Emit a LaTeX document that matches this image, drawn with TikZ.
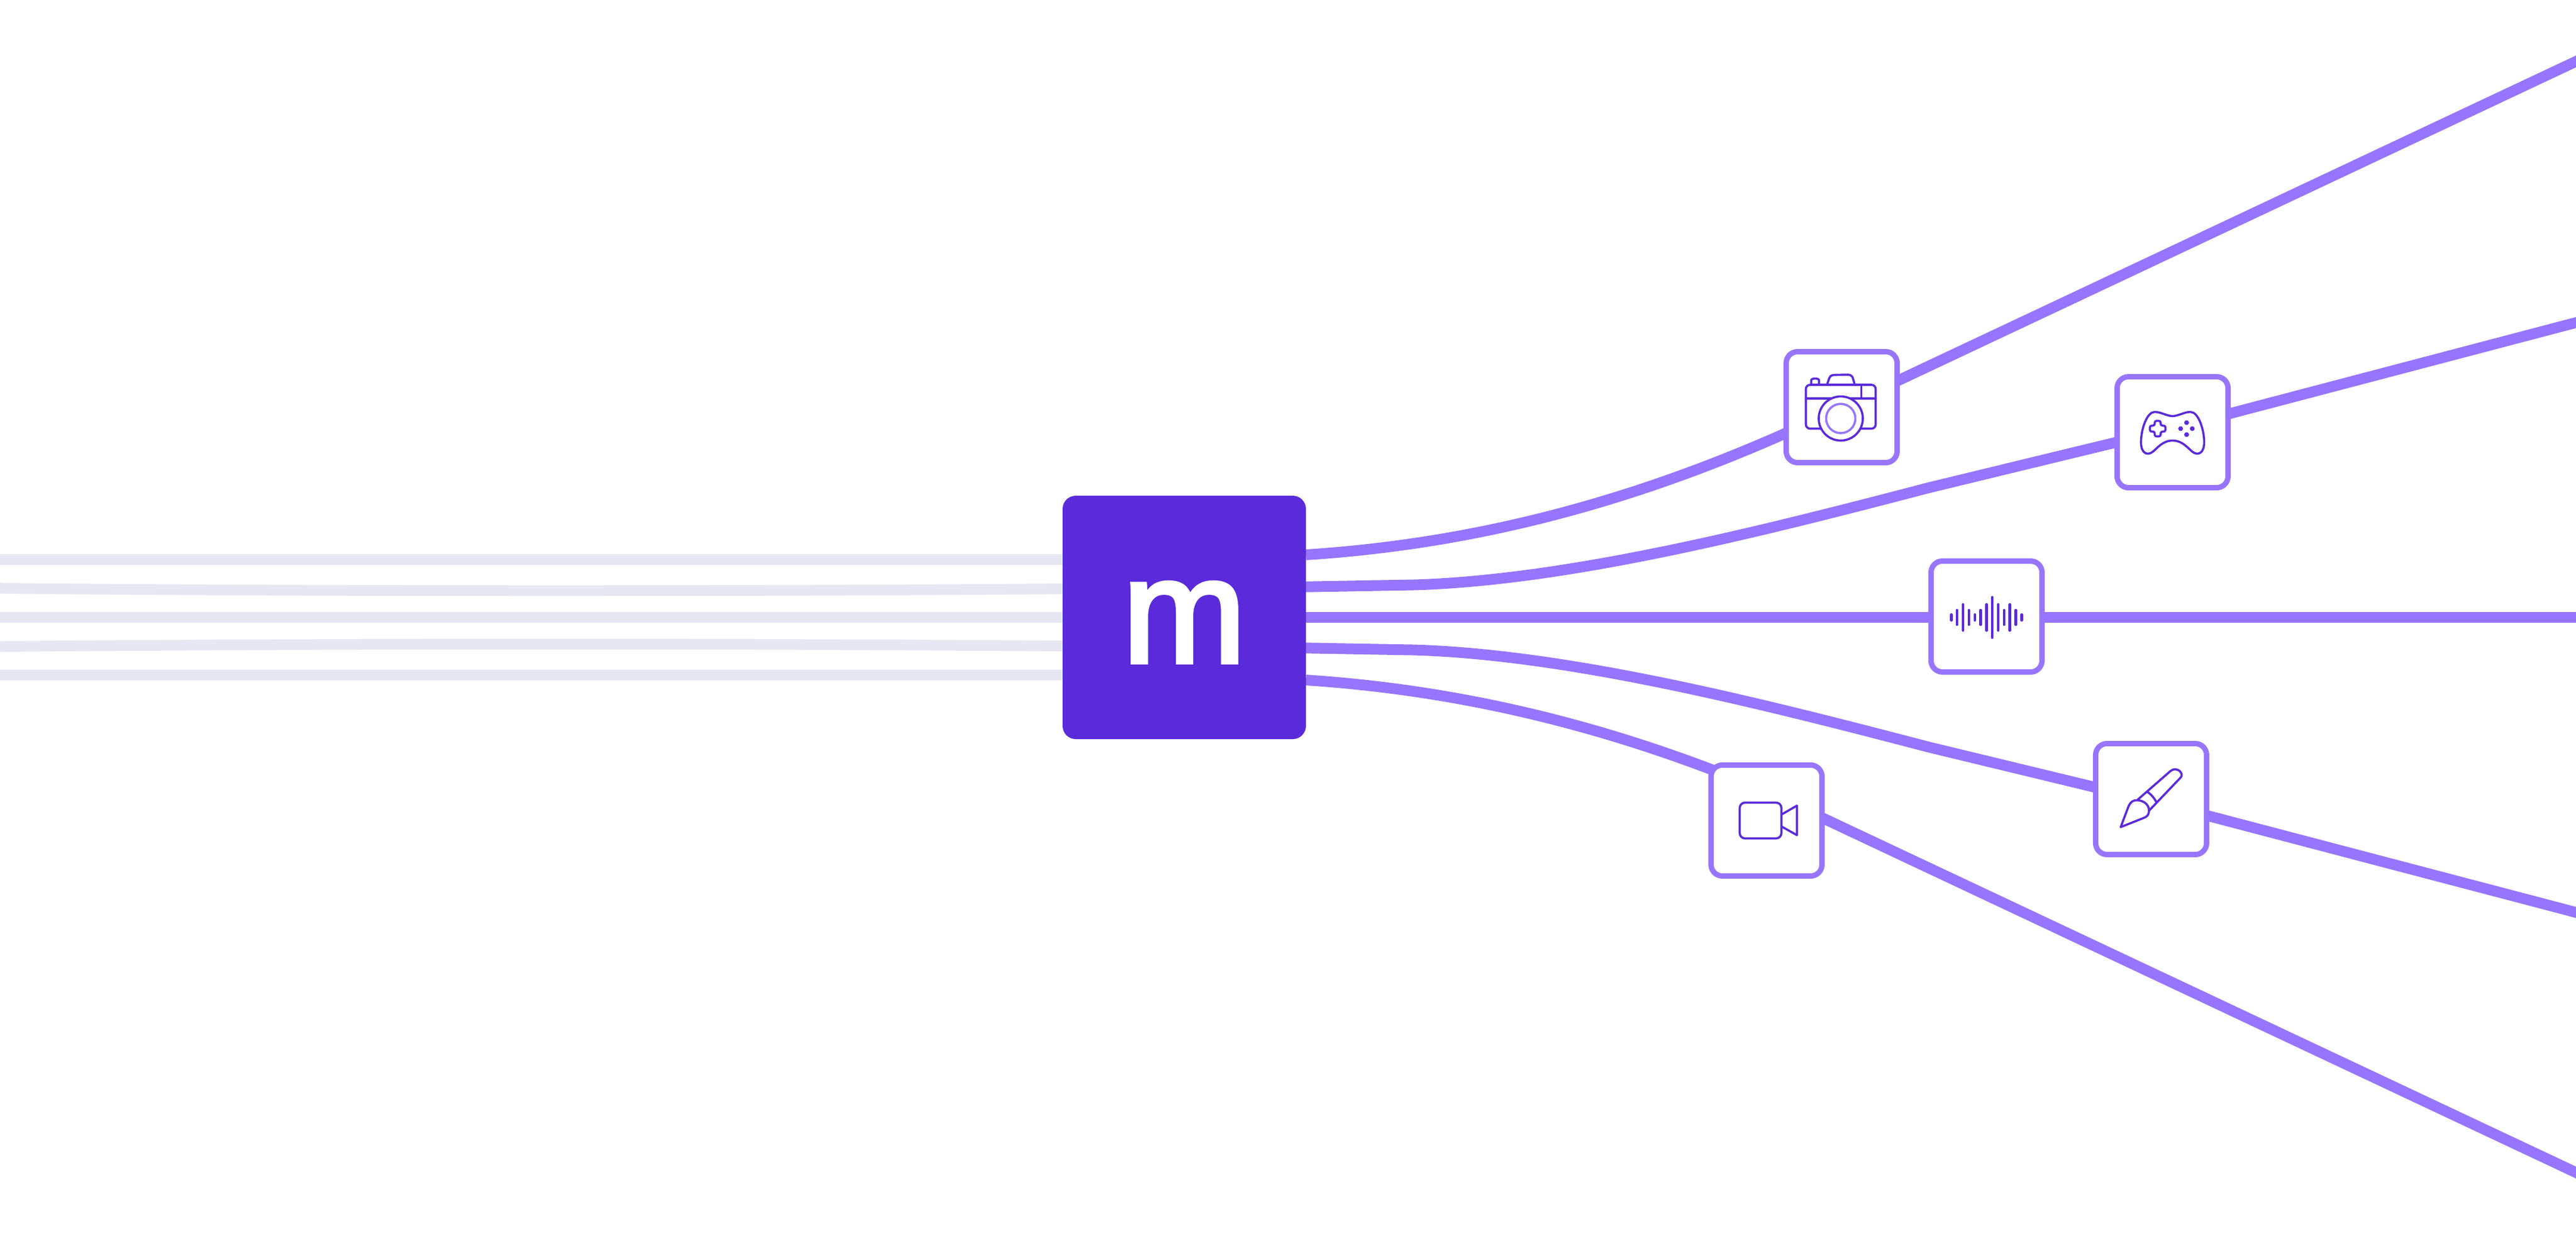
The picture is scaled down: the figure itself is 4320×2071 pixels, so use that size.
\documentclass[tikz,border=0pt]{standalone}
\usepackage{fontspec}
\usepackage{tikz}
\usetikzlibrary{positioning, backgrounds}
\newfontfamily\logofont[FakeBold=3]{Liberation Sans}
\definecolor{brandviolet}{HTML}{5B2ADB}
\definecolor{flowviolet}{HTML}{9775FF}
\definecolor{feedgray}{HTML}{E5E8F2}
\tikzset{%
	mainbox/.style={rectangle, minimum size=40.8pt, inner sep=0pt, outer sep=0pt, rounded corners=2.2pt,%
		fill=brandviolet, text=white, text height=15pt, font=\logofont\fontsize{24.8}{30}\selectfont},
	appbox/.style={draw=flowviolet, line width=0.9pt, rectangle, minimum size=18.6pt, inner sep=0pt,%
		outer sep=0.45pt, rounded corners=1.9pt, fill=white},
	feed/.style={draw=feedgray, line width=1.8pt},
	flow/.style={draw=flowviolet, line width=1.8pt},
	icon/.style={draw=brandviolet, line width=0.36pt, line join=round, line cap=round},
	iconsoft/.style={draw=flowviolet, line width=0.36pt},
	bar/.style={draw=brandviolet, line width=0.45pt, line cap=round},
	knob/.style={fill=brandviolet}
}
\begin{document}
\begin{tikzpicture}[x=0.1pt, y=-0.1pt]
		\useasboundingbox (0,0) rectangle (4320,2071);
		\node[mainbox] (main) at (1986,1035) {m};
		\node[appbox] (cam) [above right=5.1pt and 80.1pt of main] {};
		\node[appbox] (game) [above right=0.9pt and 135.6pt of main] {};
		\node[appbox, yshift=0.15pt] (audio) [right=104.4pt of main] {};
		\node[appbox] (brush) [below right=0.3pt and 132pt of main] {};
		\node[appbox] (video) [below right=3.9pt and 67.5pt of main] {};

		\coordinate (in-a) at (-20,938);
		\coordinate (in-b) at (-20,986);
		\coordinate (in-c) at (-20,1035);
		\coordinate (in-d) at (-20,1084);
		\coordinate (in-e) at (-20,1131.5);
		\coordinate (out-cam) at (4340,93.5);
		\coordinate (out-game) at (4340,535.5);
		\coordinate (out-audio) at (4340,1035);
		\coordinate (out-brush) at (4340,1534.8);
		\coordinate (out-video) at (4340,1975);
		\coordinate (game-in) at (3233,818);
		\coordinate (brush-in) at (3233,1252);

		\begin{scope}[on background layer]
			\draw [feed] (in-a) to ([yshift=9.7pt]main.west);
			\draw [feed] (in-b) .. controls (600,992) and (1300,991) .. ([yshift=4.8pt]main.west);
			\draw [feed] (in-c) to (main.west);
			\draw [feed] (in-d) .. controls (600,1078) and (1300,1079) .. ([yshift=-4.8pt]main.west);
			\draw [feed] (in-e) to ([yshift=-9.65pt]main.west);

			\draw [flow] ([yshift=10.5pt]main.east) .. controls (2470,912) and (2760,842) .. (cam.center);
			\draw [flow] (cam.center) to (out-cam);
			\draw [flow] ([yshift=5.13pt]main.east) -- (2370,980.5) .. controls (2630,973) and (2950,892) .. (game-in) -- ([yshift=0.6pt]game.center);
			\draw [flow] ([yshift=0.6pt]game.center) to (out-game);
			\draw [flow] (main.east) to (audio.west |- main.east);
			\draw [flow] (audio.east |- main.east) to (out-audio);
			\draw [flow] ([yshift=-5.13pt]main.east) -- (2370,1089.5) .. controls (2630,1097) and (2950,1178) .. (brush-in) -- ([yshift=-0.3pt]brush.center);
			\draw [flow] ([yshift=-0.3pt]brush.center) to (out-brush);
			\draw [flow] ([yshift=-10.5pt]main.east) .. controls (2436,1156) and (2690,1212) .. ([yshift=4.85pt]video.center);
			\draw [flow] ([yshift=4.85pt]video.center) to (out-video);
		\end{scope}

		\begin{scope}[shift={(cam.center)}]
			\draw [icon] (-51,-37.5) -- (-51,-45) .. controls (-51,-49) and (-38,-49) .. (-38,-45) -- (-38,-37.5);
			\draw [icon] (-24.5,-37.5) -- (-21,-48) .. controls (-19.5,-52) and (-17,-54) .. (-12,-54) -- (10,-54.5) .. controls (15,-54.5) and (18,-52) .. (19,-48) -- (22,-37.5);
			\draw [icon, rounded corners=0.7pt] (-60,-37.5) rectangle (57,36);
			\draw [icon] (-60,-14.8) -- (57,-14.8);
			\draw [icon] (33,-37.5) -- (33,-14.8);
			\draw [icon, fill=white] (-1.5,19) circle (37);
			\draw [iconsoft] (-1.5,19) circle (24.5);
		\end{scope}

		\begin{scope}[shift={(game.center)}]
			\draw [icon] (0,-27) .. controls (-9,-27) and (-20,-34) .. (-30,-34) .. controls (-43,-34) and (-53,-5) .. (-53,17)%
				.. controls (-53,28) and (-49,36) .. (-41,36) .. controls (-30,36) and (-22,14) .. (0,14)%
				.. controls (22,14) and (30,36) .. (41,36) .. controls (49,36) and (53,28) .. (53,17)%
				.. controls (53,-5) and (43,-34) .. (30,-34) .. controls (20,-34) and (9,-27) .. (0,-27) -- cycle;
			\draw [icon, rounded corners=0.3pt] (-30,-19) -- (-20,-19) -- (-20,-11) -- (-12,-11) -- (-12,-1) -- (-20,-1)%
				-- (-20,7) -- (-30,7) -- (-30,-1) -- (-38,-1) -- (-38,-11) -- (-30,-11) -- cycle;
			\fill [knob] (23.5,-16) circle (4);
			\fill [knob] (33,-6) circle (4);
			\fill [knob] (23.5,4) circle (4);
			\fill [knob] (13.5,-6) circle (4);
		\end{scope}

		\begin{scope}[shift={(audio.center)}]
			\draw [bar] (-59,-3.25) -- (-59,6.25);
			\draw [bar] (-49.5,-10.55) -- (-49.5,13.55);
			\draw [bar] (-39.5,-20.25) -- (-39.5,23.25);
			\draw [bar] (-29.5,-10.55) -- (-29.5,13.55);
			\draw [bar] (-19.5,-3.25) -- (-19.5,6.25);
			\draw [bar] (-10,-10.55) -- (-10,13.55);
			\draw [bar] (0,-20.25) -- (0,23.25);
			\draw [bar] (9.5,-32.25) -- (9.5,35.25);
			\draw [bar] (19.5,-20.25) -- (19.5,23.25);
			\draw [bar] (29.5,-10.55) -- (29.5,13.55);
			\draw [bar] (39,-20.25) -- (39,23.25);
			\draw [bar] (49,-10.55) -- (49,13.55);
			\draw [bar] (59,-3.25) -- (59,6.25);
		\end{scope}

		\begin{scope}[shift={(brush.center)}]
			\draw [icon] (-22.5,1) -- (32.5,-47) .. controls (43,-56) and (58,-42) .. (48,-34.5) -- (-4,20);
			\draw [icon] (-6.5,-12) .. controls (-1,-9) and (6,-1) .. (9,5.5);
			\draw [icon] (-51,47) -- (-38,12.5) .. controls (-34,4) and (-30,2) .. (-24,2) .. controls (-12,2) and (-3,10) .. (-3.5,20)%
				.. controls (-4,27) and (-7,29.5) .. (-12,31.5) -- cycle;
		\end{scope}

		\begin{scope}[shift={(video.center)}]
			\draw [icon, rounded corners=0.9pt] (-45,-30) rectangle (25,30);
			\draw [icon] (26,-10.5) -- (51,-25) -- (51,24.5) -- (26,10.5);
		\end{scope}
	\end{tikzpicture}
\end{document}
